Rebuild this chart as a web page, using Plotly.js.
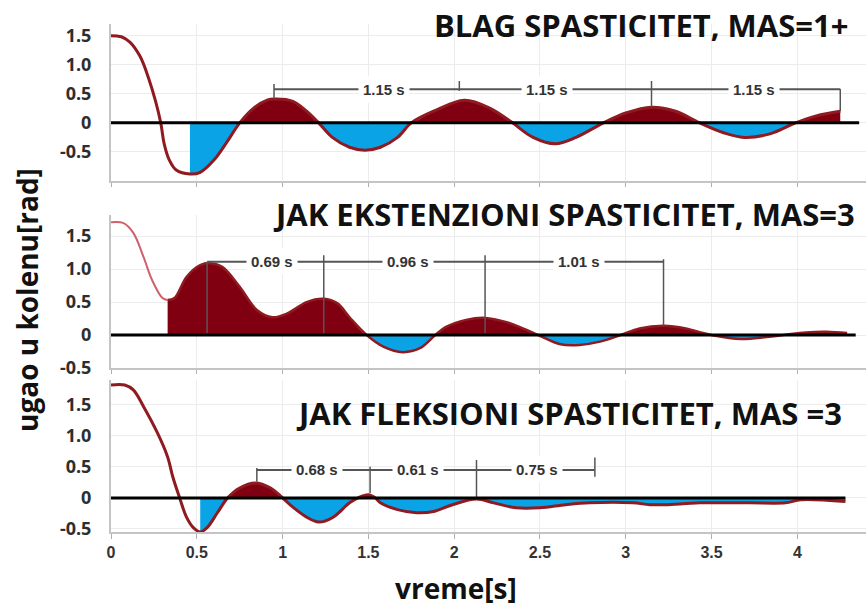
<!DOCTYPE html>
<html>
<head>
<meta charset="utf-8">
<script src="https://cdn.plot.ly/plotly-3.0.1.min.js"></script>
<style>html,body{margin:0;padding:0;background:#fff;}#chart{width:866px;height:608px;}</style>
</head>
<body>
<div id="chart"></div>
<script>
// ---- Data ----
// Panel 1: BLAG SPASTICITET, MAS=1+
var t1 = [0, 0.06, 0.11, 0.17, 0.22, 0.26, 0.29, 0.31, 0.34, 0.38, 0.46, 0.52, 0.60, 0.68, 0.75, 0.83, 0.91, 0.95, 1.06, 1.14, 1.21, 1.29, 1.39, 1.48, 1.57, 1.67, 1.75, 1.88, 2.06, 2.21, 2.34, 2.46, 2.59, 2.71, 2.87, 3.00, 3.15, 3.29, 3.43, 3.57, 3.69, 3.84, 3.99, 4.11, 4.25];
var v1 = [1.5, 1.48, 1.39, 1.14, 0.76, 0.37, 0, -0.36, -0.64, -0.81, -0.88, -0.85, -0.64, -0.31, 0, 0.25, 0.39, 0.41, 0.37, 0.2, 0, -0.25, -0.42, -0.47, -0.42, -0.25, 0, 0.2, 0.39, 0.25, 0, -0.25, -0.36, -0.25, 0, 0.17, 0.27, 0.2, 0, -0.17, -0.25, -0.19, 0, 0.12, 0.2];
var fillNeg1From = 0.46, fillPos1From = 0.75;
var periodLabels1 = ['1.15 s', '1.15 s', '1.15 s'];
var periodLabelT1 = [1.59, 2.54, 3.75];
var markT1 = [0.95, 2.03, 3.15, 4.25];
var markTop1 = [0.67, 0.72, 0.72, 0.58];
var markBot1 = [0.42, 0.55, 0.27, 0.2];
var bracketY1 = 0.58;

// Panel 2: JAK EKSTENZIONI SPASTICITET, MAS=3
var t2 = [0, 0.07, 0.13, 0.19, 0.24, 0.30, 0.33, 0.37, 0.44, 0.52, 0.58, 0.65, 0.75, 0.85, 0.94, 1.03, 1.14, 1.24, 1.32, 1.39, 1.49, 1.59, 1.70, 1.80, 1.89, 1.95, 2.07, 2.18, 2.30, 2.40, 2.49, 2.62, 2.73, 2.85, 2.97, 3.08, 3.22, 3.35, 3.45, 3.50, 3.67, 3.82, 3.92, 4.05, 4.17, 4.29];
var v2 = [1.71, 1.70, 1.55, 1.18, 0.83, 0.56, 0.53, 0.56, 0.88, 1.06, 1.09, 1.03, 0.73, 0.38, 0.27, 0.33, 0.50, 0.55, 0.48, 0.27, 0, -0.18, -0.26, -0.20, 0, 0.12, 0.23, 0.26, 0.20, 0.10, 0, -0.14, -0.15, -0.10, 0, 0.10, 0.14, 0.10, 0.03, 0, -0.06, -0.03, 0, 0.04, 0.05, 0.03];
var fillNeg2From = 0.33, fillPos2From = 0.33;
var periodLabels2 = ['0.69 s', '0.96 s', '1.01 s'];
var periodLabelT2 = [0.94, 1.73, 2.73];
var markT2 = [0.56, 1.24, 2.18, 3.22];
var markTop2 = [1.11, 1.21, 1.21, 1.15];
var markBot2 = [0, 0, 0, 0.14];
var bracketY2 = 1.11;

// Panel 3: JAK FLEKSIONI SPASTICITET, MAS =3
var t3 = [0, 0.08, 0.13, 0.19, 0.27, 0.33, 0.36, 0.40, 0.44, 0.48, 0.52, 0.56, 0.62, 0.68, 0.75, 0.84, 0.93, 1.00, 1.06, 1.14, 1.21, 1.29, 1.39, 1.44, 1.50, 1.54, 1.57, 1.67, 1.78, 1.88, 1.99, 2.13, 2.23, 2.36, 2.50, 2.65, 2.79, 3.04, 3.14, 3.23, 3.43, 3.72, 3.93, 4.02, 4.28];
var v3 = [1.82, 1.82, 1.74, 1.47, 1.05, 0.66, 0.34, 0, -0.31, -0.48, -0.55, -0.48, -0.24, 0, 0.16, 0.24, 0.16, 0, -0.15, -0.31, -0.39, -0.32, -0.08, 0, 0.05, 0, -0.08, -0.19, -0.24, -0.22, -0.11, -0.02, -0.08, -0.16, -0.16, -0.11, -0.08, -0.08, -0.11, -0.11, -0.08, -0.08, -0.08, -0.03, -0.06];
var fillNeg3From = 0.52, fillPos3From = 0.68;
var periodLabels3 = ['0.68 s', '0.61 s', '0.75 s'];
var periodLabelT3 = [1.20, 1.79, 2.48];
var markT3 = [0.85, 1.51, 2.13, 2.82];
var markTop3 = [0.48, 0.5, 0.61, 0.65];
var markBot3 = [0.26, 0.08, 0, 0.34];
var bracketY3 = 0.45;

var titles = ['BLAG SPASTICITET, MAS=1+', 'JAK EKSTENZIONI SPASTICITET, MAS=3', 'JAK FLEKSIONI SPASTICITET, MAS =3'];
var yTickVals = [-0.5, 0, 0.5, 1, 1.5];
var yTickText = ['-0.5', '0', '0.5', '1.0', '1.5'];
var xTickVals = [0, 0.5, 1, 1.5, 2, 2.5, 3, 3.5, 4];
var xTickText = ['0', '0.5', '1', '1.5', '2', '2.5', '3', '3.5', '4'];
var yTitle = 'ugao u kolenu[rad]';
var xTitle = 'vreme[s]';

// ---- Styles ----
var RED_FILL = '#800012';
var BLUE_FILL = '#0aa3e6';
var CURVE = '#8f1a20';
var CURVE_LIGHT = '#d0606c';
var SMOOTH = 1.0;

function fillTrace(t, v, from, sign, ax, color) {
  var xs = [], ys = [];
  for (var i = 0; i < t.length; i++) {
    if (t[i] >= from - 1e-9) {
      xs.push(t[i]);
      ys.push(sign > 0 ? Math.max(v[i], 0) : Math.min(v[i], 0));
    }
  }
  return {x: xs, y: ys, type: 'scatter', mode: 'lines', fill: 'tozeroy', fillcolor: color,
          line: {width: 0, shape: 'spline', smoothing: SMOOTH, color: color}, xaxis: 'x' + ax, yaxis: 'y' + ax, hoverinfo: 'skip'};
}
function lineTrace(t, v, ax, color, width, from, to) {
  var xs = [], ys = [];
  for (var i = 0; i < t.length; i++) {
    if (t[i] >= from - 1e-9 && t[i] <= to + 1e-9) { xs.push(t[i]); ys.push(v[i]); }
  }
  return {x: xs, y: ys, type: 'scatter', mode: 'lines', line: {color: color, width: width, shape: 'spline', smoothing: SMOOTH},
          xaxis: 'x' + ax, yaxis: 'y' + ax};
}

var traces = [
  fillTrace(t1, v1, fillPos1From, 1, '', RED_FILL),
  fillTrace(t1, v1, fillNeg1From, -1, '', BLUE_FILL),
  lineTrace(t1, v1, '', CURVE, 3, 0, 99),
  fillTrace(t2, v2, fillPos2From, 1, '2', RED_FILL),
  fillTrace(t2, v2, fillNeg2From, -1, '2', BLUE_FILL),
  lineTrace(t2, v2, '2', CURVE_LIGHT, 2, 0, fillPos2From),
  lineTrace(t2, v2, '2', CURVE, 2.5, fillPos2From, 99),
  fillTrace(t3, v3, fillPos3From, 1, '3', RED_FILL),
  fillTrace(t3, v3, fillNeg3From, -1, '3', BLUE_FILL),
  lineTrace(t3, v3, '3', CURVE, 3, 0, 99)
];

var shapes = [];
var annotations = [];
function addBrackets(ax, markT, markTop, markBot, bracketY, labels, labelT) {
  var xr = 'x' + ax, yr = 'y' + ax;
  shapes.push({type: 'line', xref: xr, yref: yr, x0: markT[0], x1: markT[markT.length - 1], y0: bracketY, y1: bracketY,
               line: {color: '#555', width: 2}, layer: 'above'});
  for (var i = 0; i < markT.length; i++) {
    shapes.push({type: 'line', xref: xr, yref: yr, x0: markT[i], x1: markT[i], y0: markBot[i], y1: markTop[i],
                 line: {color: '#555', width: 1.5}, layer: 'above'});
  }
  for (var j = 0; j < labels.length; j++) {
    annotations.push({xref: xr, yref: yr, x: labelT[j], y: bracketY, text: labels[j], showarrow: false,
                      bgcolor: '#ffffff', borderpad: 4,
                      font: {family: 'Liberation Sans, Arial, sans-serif', size: 15, color: '#333333', weight: 'bold'}});
  }
}
addBrackets('', markT1, markTop1, markBot1, bracketY1, periodLabels1, periodLabelT1);
addBrackets('2', markT2, markTop2, markBot2, bracketY2, periodLabels2, periodLabelT2);
addBrackets('3', markT3, markTop3, markBot3, bracketY3, periodLabels3, periodLabelT3);

// zero lines drawn above the fills
shapes.push({type: 'line', xref: 'x', yref: 'y', x0: 0, x1: 4.36, y0: 0, y1: 0, line: {color: '#000', width: 3}, layer: 'above'});
shapes.push({type: 'line', xref: 'x2', yref: 'y2', x0: 0, x1: 4.34, y0: 0, y1: 0, line: {color: '#000', width: 3}, layer: 'above'});
shapes.push({type: 'line', xref: 'x3', yref: 'y3', x0: 0, x1: 4.28, y0: 0, y1: 0, line: {color: '#000', width: 3}, layer: 'above'});

var titleFont = {family: 'Open Sans, sans-serif', size: 31, color: '#111', weight: 'bold'};
annotations.push({xref: 'paper', yref: 'paper', x: 851 / 866, y: 1 - 25 / 608, xanchor: 'right', yanchor: 'middle', text: titles[0], showarrow: false, font: titleFont});
annotations.push({xref: 'paper', yref: 'paper', x: 857 / 866, y: 1 - 214 / 608, xanchor: 'right', yanchor: 'middle', text: titles[1], showarrow: false, font: titleFont});
annotations.push({xref: 'paper', yref: 'paper', x: 844 / 866, y: 1 - 413 / 608, xanchor: 'right', yanchor: 'middle', text: titles[2], showarrow: false, font: titleFont});
annotations.push({xref: 'paper', yref: 'paper', x: 27 / 866, y: 1 - 300 / 608, xanchor: 'center', yanchor: 'middle', textangle: -90, text: yTitle, showarrow: false,
                  font: {family: 'Open Sans, sans-serif', size: 28, color: '#111', weight: 'bold'}});
annotations.push({xref: 'paper', yref: 'paper', x: 456 / 866, y: 1 - 588 / 608, xanchor: 'center', yanchor: 'middle', text: xTitle, showarrow: false,
                  borderpad: 0, font: {family: 'Open Sans, sans-serif', size: 28, color: '#111', weight: 'bold'}});

function xAxis(anchor, labels) {
  return {domain: [111 / 866, 1], range: [0, 4.4], anchor: anchor, showline: true, linecolor: '#c4c4c4', linewidth: 2,
          showgrid: true, gridcolor: '#ececec', zeroline: false, tickvals: xTickVals, ticktext: xTickText,
          showticklabels: labels, ticks: 'outside', ticklen: labels ? 5 : 4, tickcolor: '#b0b0b0',
          tickfont: {family: 'Liberation Sans, Arial, sans-serif', size: 16, color: '#333', weight: 'bold'}, fixedrange: true};
}
function yAxis(anchor, d0, d1, range) {
  return {domain: [1 - d1 / 608, 1 - d0 / 608], range: range, anchor: anchor, showline: true, linecolor: '#c4c4c4', linewidth: 2,
          showgrid: true, gridcolor: '#ececec', zeroline: false, tickvals: yTickVals, ticktext: yTickText, ticks: '',
          ticklabelstandoff: 14,
          tickfont: {family: 'Open Sans, sans-serif', size: 18, color: '#2e2e2e', weight: 'bold'}, fixedrange: true};
}

var layout = {
  width: 866, height: 608, margin: {l: 0, r: 0, t: 0, b: 0}, paper_bgcolor: '#fff', plot_bgcolor: '#fff', showlegend: false,
  xaxis: xAxis('y', false), yaxis: yAxis('x', 24, 181, [-1.0, 1.7]),
  xaxis2: xAxis('y2', false), yaxis2: yAxis('x2', 215, 368, [-0.5, 1.82]),
  xaxis3: xAxis('y3', true), yaxis3: yAxis('x3', 380, 532, [-0.55, 1.9]),
  shapes: shapes, annotations: annotations
};

Plotly.newPlot('chart', traces, layout, {staticPlot: true, displayModeBar: false});
</script>
</body>
</html>
